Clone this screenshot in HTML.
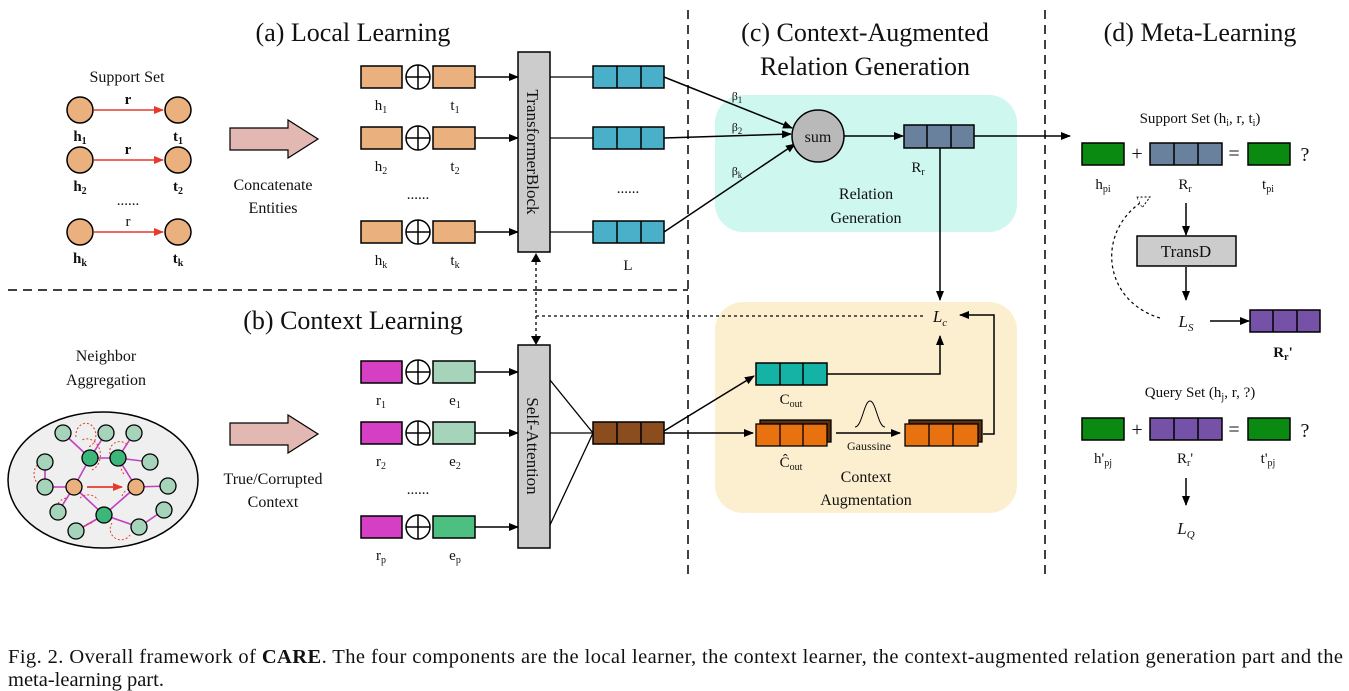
<!DOCTYPE html>
<html><head><meta charset="utf-8"><style>
body{margin:0;background:#fff}
svg{display:block}
text{font-family:"Liberation Serif",serif;fill:#111}
</style></head><body>
<svg width="1349" height="691" viewBox="0 0 1349 691" xmlns="http://www.w3.org/2000/svg">
<defs>
<marker id="a" markerWidth="10" markerHeight="10" refX="9" refY="5" orient="auto" markerUnits="userSpaceOnUse"><path d="M0,1 L10,5 L0,9 z" fill="#000"/></marker>
<marker id="ar" markerWidth="10" markerHeight="10" refX="9" refY="5" orient="auto" markerUnits="userSpaceOnUse"><path d="M0,1 L10,5 L0,9 z" fill="#e53b2c"/></marker>
<marker id="ah" markerWidth="14" markerHeight="14" refX="12" refY="7" orient="auto" markerUnits="userSpaceOnUse"><path d="M0,1 L12,7 L0,13 z" fill="#fff" stroke="#000" stroke-dasharray="2,2"/></marker>
</defs>

<g stroke="#000" stroke-width="1.5" stroke-dasharray="9,6" fill="none">
<line x1="688" y1="10" x2="688" y2="578"/>
<line x1="1045" y1="10" x2="1045" y2="578"/>
<line x1="8" y1="290" x2="688" y2="290"/>
</g>

<g font-size="26" text-anchor="middle">
<text x="353" y="41">(a) Local Learning</text>
<text x="353" y="329">(b) Context Learning</text>
<text x="865" y="41">(c) Context-Augmented</text>
<text x="865" y="75">Relation Generation</text>
<text x="1200" y="41">(d) Meta-Learning</text>
</g>

<text x="127" y="82" font-size="16" text-anchor="middle">Support Set</text>
<g stroke="#e53b2c" stroke-width="1.5" marker-end="url(#ar)">
<line x1="94" y1="110" x2="163" y2="110"/><line x1="94" y1="160" x2="163" y2="160"/><line x1="94" y1="232" x2="163" y2="232"/>
</g>
<g fill="#eab07e" stroke="#000" stroke-width="1.5">
<circle cx="80" cy="110" r="13"/><circle cx="178" cy="110" r="13"/>
<circle cx="80" cy="160" r="13"/><circle cx="178" cy="160" r="13"/>
<circle cx="80" cy="232" r="13"/><circle cx="178" cy="232" r="13"/>
</g>
<g font-size="15" text-anchor="middle" font-weight="bold">
<text x="128" y="104">r</text><text x="128" y="154">r</text><text x="128" y="226" font-weight="normal">r</text>
<text x="80" y="141">h<tspan font-size="10" dy="3">1</tspan></text><text x="178" y="141">t<tspan font-size="10" dy="3">1</tspan></text>
<text x="80" y="191">h<tspan font-size="10" dy="3">2</tspan></text><text x="178" y="191">t<tspan font-size="10" dy="3">2</tspan></text>
<text x="80" y="263">h<tspan font-size="10" dy="3">k</tspan></text><text x="178" y="263">t<tspan font-size="10" dy="3">k</tspan></text>
<text x="128" y="205" font-weight="normal">......</text>
</g>

<path d="M230,128 H288 V120 L318,139 L288,158 V150 H230 z" fill="#e3b8b3" stroke="#000" stroke-width="1.2"/>
<path d="M230,423 H288 V415 L318,434 L288,453 V445 H230 z" fill="#e3b8b3" stroke="#000" stroke-width="1.2"/>
<g font-size="16" text-anchor="middle">
<text x="273" y="190">Concatenate</text><text x="273" y="213">Entities</text>
<text x="273" y="484">True/Corrupted</text><text x="273" y="507">Context</text>
<text x="106" y="361">Neighbor</text><text x="106" y="385">Aggregation</text>
</g>

<ellipse cx="103" cy="480" rx="95" ry="68" fill="#efefef" stroke="#000" stroke-width="1.5"/>
<g stroke="#c33fc3" stroke-width="1.6">
<line x1="63" y1="433" x2="90" y2="458"/><line x1="106" y1="433" x2="90" y2="458"/><line x1="134" y1="433" x2="118" y2="458"/>
<line x1="90" y1="458" x2="118" y2="458"/><line x1="118" y1="458" x2="150" y2="462"/><line x1="45" y1="462" x2="45" y2="487"/>
<line x1="90" y1="458" x2="74" y2="487"/><line x1="118" y1="458" x2="136" y2="487"/><line x1="45" y1="487" x2="74" y2="487"/>
<line x1="136" y1="487" x2="168" y2="486"/><line x1="74" y1="487" x2="58" y2="512"/><line x1="74" y1="487" x2="104" y2="515"/>
<line x1="136" y1="487" x2="104" y2="515"/><line x1="104" y1="515" x2="76" y2="531"/><line x1="104" y1="515" x2="139" y2="527"/><line x1="139" y1="527" x2="164" y2="510"/>
</g>
<g stroke="#e53b2c" stroke-width="1" stroke-dasharray="2,2" fill="none">
<path d="M76,437 a10,12 0 1 1 12,10"/><path d="M92,470 a10,12 0 0 0 -10,-30"/><path d="M110,454 a10,10 0 0 1 18,-8"/>
<path d="M48,460 a12,12 0 0 0 0,28"/><path d="M66,498 a12,12 0 0 0 -8,18"/><path d="M80,498 a12,12 0 0 1 18,2"/>
<path d="M124,474 a12,12 0 0 1 0,-16"/><path d="M122,496 a12,12 0 0 1 12,-8"/><path d="M92,523 a10,10 0 0 0 -10,8"/><path d="M112,523 a10,10 0 0 0 18,12"/>
</g>
<line x1="87" y1="487" x2="122" y2="487" stroke="#e53b2c" stroke-width="1.8" marker-end="url(#ar)"/>
<g stroke="#000" stroke-width="1.3" fill="#a6d4bb">
<circle cx="63" cy="433" r="8"/><circle cx="106" cy="433" r="8"/><circle cx="134" cy="433" r="8"/>
<circle cx="45" cy="462" r="8"/><circle cx="150" cy="462" r="8"/><circle cx="45" cy="487" r="8"/><circle cx="168" cy="486" r="8"/>
<circle cx="58" cy="512" r="8"/><circle cx="164" cy="510" r="8"/><circle cx="76" cy="531" r="8"/><circle cx="139" cy="527" r="8"/>
<circle cx="90" cy="458" r="8" fill="#3db67a"/><circle cx="118" cy="458" r="8" fill="#3db67a"/><circle cx="104" cy="515" r="8" fill="#3db67a"/>
<circle cx="74" cy="487" r="8" fill="#eab07e"/><circle cx="136" cy="487" r="8" fill="#eab07e"/>
</g>

<g stroke="#000" stroke-width="1.5">
<rect x="361" y="66" width="41" height="22" fill="#eab07e"/><rect x="433" y="66" width="42" height="22" fill="#eab07e"/>
<rect x="361" y="127" width="41" height="22" fill="#eab07e"/><rect x="433" y="127" width="42" height="22" fill="#eab07e"/>
<rect x="361" y="221" width="41" height="22" fill="#eab07e"/><rect x="433" y="221" width="42" height="22" fill="#eab07e"/>
<rect x="361" y="361" width="41" height="22" fill="#d43fc4"/><rect x="433" y="361" width="42" height="22" fill="#a6d4bb"/>
<rect x="361" y="422" width="41" height="22" fill="#d43fc4"/><rect x="433" y="422" width="42" height="22" fill="#a6d4bb"/>
<rect x="361" y="516" width="41" height="22" fill="#d43fc4"/><rect x="433" y="516" width="42" height="22" fill="#4dbf80"/>
</g>
<g stroke="#000" stroke-width="1.5" fill="#fff">
<g><circle cx="418" cy="77" r="12"/><path d="M406,77 H430 M418,65 V89"/></g>
<g><circle cx="418" cy="138" r="12"/><path d="M406,138 H430 M418,126 V150"/></g>
<g><circle cx="418" cy="232" r="12"/><path d="M406,232 H430 M418,220 V244"/></g>
<g><circle cx="418" cy="372" r="12"/><path d="M406,372 H430 M418,360 V384"/></g>
<g><circle cx="418" cy="433" r="12"/><path d="M406,433 H430 M418,421 V445"/></g>
<g><circle cx="418" cy="527" r="12"/><path d="M406,527 H430 M418,515 V539"/></g>
</g>
<g font-size="15" text-anchor="middle">
<text x="381" y="110">h<tspan font-size="10" dy="3">1</tspan></text><text x="455" y="110">t<tspan font-size="10" dy="3">1</tspan></text>
<text x="381" y="171">h<tspan font-size="10" dy="3">2</tspan></text><text x="455" y="171">t<tspan font-size="10" dy="3">2</tspan></text>
<text x="381" y="265">h<tspan font-size="10" dy="3">k</tspan></text><text x="455" y="265">t<tspan font-size="10" dy="3">k</tspan></text>
<text x="418" y="199">......</text>
<text x="381" y="405">r<tspan font-size="10" dy="3">1</tspan></text><text x="455" y="405">e<tspan font-size="10" dy="3">1</tspan></text>
<text x="381" y="466">r<tspan font-size="10" dy="3">2</tspan></text><text x="455" y="466">e<tspan font-size="10" dy="3">2</tspan></text>
<text x="381" y="560">r<tspan font-size="10" dy="3">p</tspan></text><text x="455" y="560">e<tspan font-size="10" dy="3">p</tspan></text>
<text x="418" y="494">......</text>
<text x="628" y="193">......</text>
<text x="628" y="270">L</text>
</g>
<g stroke="#000" stroke-width="1.5" marker-end="url(#a)">
<line x1="475" y1="77" x2="518" y2="77"/><line x1="475" y1="138" x2="518" y2="138"/><line x1="475" y1="232" x2="518" y2="232"/>
<line x1="475" y1="372" x2="518" y2="372"/><line x1="475" y1="433" x2="518" y2="433"/><line x1="475" y1="527" x2="518" y2="527"/>
</g>

<rect x="518" y="52" width="32" height="200" fill="#cccccc" stroke="#000" stroke-width="1.5"/>
<text transform="translate(527,152) rotate(90)" font-size="17" text-anchor="middle">TransformerBlock</text>
<rect x="518" y="345" width="32" height="203" fill="#cccccc" stroke="#000" stroke-width="1.5"/>
<text transform="translate(527,446) rotate(90)" font-size="17" text-anchor="middle">Self-Attention</text>

<g stroke="#000" stroke-width="1.5" fill="#4aafc8">
<rect x="593" y="66" width="71" height="22"/><rect x="593" y="127" width="71" height="22"/><rect x="593" y="221" width="71" height="22"/>
</g>
<g stroke="#000" stroke-width="1.5"><path d="M617,66V88 M641,66V88 M617,127V149 M641,127V149 M617,221V243 M641,221V243"/></g>
<g stroke="#000" stroke-width="1.3">
<line x1="550" y1="77" x2="593" y2="77"/><line x1="550" y1="138" x2="593" y2="138"/><line x1="550" y1="232" x2="593" y2="232"/>
</g>

<rect x="715" y="95" width="302" height="137" rx="28" fill="#cdf7ef"/>
<rect x="715" y="302" width="302" height="211" rx="28" fill="#fcefcf"/>

<g stroke="#000" stroke-width="1.3" stroke-dasharray="3,3" fill="none">
<line x1="536" y1="262" x2="536" y2="336"/>
<line x1="536" y1="316" x2="925" y2="316"/>
</g>
<path d="M531,262 L536,253 L541,262 z M531,336 L536,345 L541,336 z" fill="#000"/>

<g font-size="16" text-anchor="middle">
<text x="866" y="199">Relation</text><text x="866" y="223">Generation</text>
<text x="866" y="482">Context</text><text x="866" y="505">Augmentation</text>
</g>
<g stroke="#000" stroke-width="1.5" marker-end="url(#a)">
<line x1="664" y1="77" x2="792" y2="128"/><line x1="664" y1="138" x2="791" y2="134"/><line x1="664" y1="232" x2="795" y2="144"/>
<line x1="844" y1="136" x2="903" y2="136"/>
<line x1="974" y1="136" x2="1070" y2="136"/>
<line x1="940" y1="148" x2="940" y2="300"/>
</g>
<g font-size="12" text-anchor="middle">
<text x="737" y="100">β<tspan font-size="9" dy="3">1</tspan></text><text x="737" y="131">β<tspan font-size="9" dy="3">2</tspan></text><text x="737" y="175">β<tspan font-size="9" dy="3">k</tspan></text>
</g>
<circle cx="818" cy="136" r="26" fill="#b9b9b9" stroke="#000" stroke-width="1.5"/>
<text x="818" y="142" font-size="16" text-anchor="middle">sum</text>
<rect x="904" y="125" width="70" height="23" fill="#6a819e" stroke="#000" stroke-width="1.5"/>
<path d="M927,125V148 M951,125V148" stroke="#000" stroke-width="1.5"/>
<text x="918" y="172" font-size="15" text-anchor="middle">R<tspan font-size="10" dy="3">r</tspan></text>
<text x="940" y="322" font-size="17" font-style="italic" text-anchor="middle">L<tspan font-size="11" dy="4">c</tspan></text>

<g stroke="#000" stroke-width="1.3">
<line x1="550" y1="380" x2="593" y2="433"/><line x1="550" y1="433" x2="593" y2="433"/><line x1="550" y1="525" x2="593" y2="433"/>
</g>
<rect x="593" y="422" width="71" height="22" fill="#8b4d1e" stroke="#000" stroke-width="1.5"/>
<path d="M617,422V444 M641,422V444" stroke="#000" stroke-width="1.5"/>
<g stroke="#000" stroke-width="1.5" marker-end="url(#a)" fill="none">
<line x1="664" y1="431" x2="754" y2="376"/>
<line x1="664" y1="433" x2="753" y2="433"/>
<polyline points="827,374 940,374 940,336"/>
<line x1="836" y1="433" x2="900" y2="433"/>
<polyline points="983,434 994,434 994,315 960,315"/>
</g>
<rect x="756" y="363" width="71" height="22" fill="#15b3a6" stroke="#000" stroke-width="1.5"/>
<path d="M780,363V385 M803,363V385" stroke="#000" stroke-width="1.5"/>
<text x="791" y="404" font-size="15" text-anchor="middle">C<tspan font-size="10" dy="3">out</tspan></text>
<g stroke="#000" stroke-width="1.3">
<rect x="760" y="420" width="71" height="22" fill="#5a2f10"/><rect x="756" y="424" width="71" height="22" fill="#e8720f"/>
<path d="M780,424V446 M803,424V446"/>
<rect x="909" y="420" width="73" height="22" fill="#5a2f10"/><rect x="905" y="424" width="73" height="22" fill="#e8720f"/>
<path d="M929,424V446 M953,424V446"/>
</g>
<text x="791" y="467" font-size="15" text-anchor="middle">Ĉ<tspan font-size="10" dy="3">out</tspan></text>
<text x="869" y="450" font-size="12" text-anchor="middle">Gaussine</text>
<path d="M855,427 C862,427 864,401 870,401 C876,401 878,427 885,427" stroke="#000" fill="none" stroke-width="1"/>

<g font-size="15" text-anchor="middle">
<text x="1200" y="123">Support Set (h<tspan font-size="10" dy="3">i</tspan><tspan dy="-3">, r, t</tspan><tspan font-size="10" dy="3">i</tspan><tspan dy="-3">)</tspan></text>
<text x="1200" y="397">Query Set (h<tspan font-size="10" dy="3">j</tspan><tspan dy="-3">, r, ?)</tspan></text>
<text x="1103" y="189">h<tspan font-size="10" dy="3">pi</tspan></text>
<text x="1185" y="189">R<tspan font-size="10" dy="3">r</tspan></text>
<text x="1268" y="189">t<tspan font-size="10" dy="3">pi</tspan></text>
<text x="1103" y="463">h'<tspan font-size="10" dy="3">pj</tspan></text>
<text x="1185" y="463">R<tspan font-size="10" dy="3">r</tspan><tspan dy="-3">'</tspan></text>
<text x="1268" y="463">t'<tspan font-size="10" dy="3">pj</tspan></text>
<text x="1283" y="357" font-weight="bold">R<tspan font-size="10" dy="3">r</tspan><tspan dy="-3">'</tspan></text>
</g>
<g font-size="20" text-anchor="middle" fill="#555">
<text x="1137" y="160">+</text><text x="1234" y="160">=</text><text x="1305" y="161" fill="#111">?</text>
<text x="1137" y="436">+</text><text x="1234" y="436">=</text><text x="1305" y="437" fill="#111">?</text>
</g>
<g stroke="#000" stroke-width="1.5">
<rect x="1082" y="143" width="42" height="22" fill="#0b8a12"/><rect x="1248" y="143" width="42" height="22" fill="#0b8a12"/>
<rect x="1150" y="143" width="72" height="22" fill="#6a819e"/><path d="M1174,143V165 M1198,143V165"/>
<rect x="1082" y="418" width="42" height="22" fill="#0b8a12"/><rect x="1248" y="418" width="42" height="22" fill="#0b8a12"/>
<rect x="1150" y="418" width="72" height="22" fill="#7651a8"/><path d="M1174,418V440 M1198,418V440"/>
<rect x="1250" y="310" width="70" height="22" fill="#7651a8"/><path d="M1273,310V332 M1297,310V332"/>
<rect x="1137" y="236" width="99" height="30" fill="#cccccc"/>
</g>
<text x="1186" y="257" font-size="17" text-anchor="middle">TransD</text>
<g stroke="#000" stroke-width="1.5" marker-end="url(#a)">
<line x1="1186" y1="203" x2="1186" y2="235"/><line x1="1186" y1="267" x2="1186" y2="300"/>
<line x1="1210" y1="321" x2="1249" y2="321"/><line x1="1186" y1="478" x2="1186" y2="505"/>
</g>
<text x="1186" y="327" font-size="17" font-style="italic" text-anchor="middle">L<tspan font-size="11" dy="4">S</tspan></text>
<text x="1186" y="534" font-size="17" font-style="italic" text-anchor="middle">L<tspan font-size="11" dy="4">Q</tspan></text>
<path d="M1160,318 C1100,300 1095,225 1150,197" stroke="#000" stroke-width="1.2" stroke-dasharray="3,3" fill="none" marker-end="url(#ah)"/>

<text x="8" y="663" font-size="20.5" textLength="1335" lengthAdjust="spacing">Fig. 2.  Overall framework of <tspan font-weight="bold">CARE</tspan>. The four components are the local learner, the context learner, the context-augmented relation generation part and the</text>
<text x="8" y="686" font-size="20.5">meta-learning part.</text>
</svg>
</body></html>
